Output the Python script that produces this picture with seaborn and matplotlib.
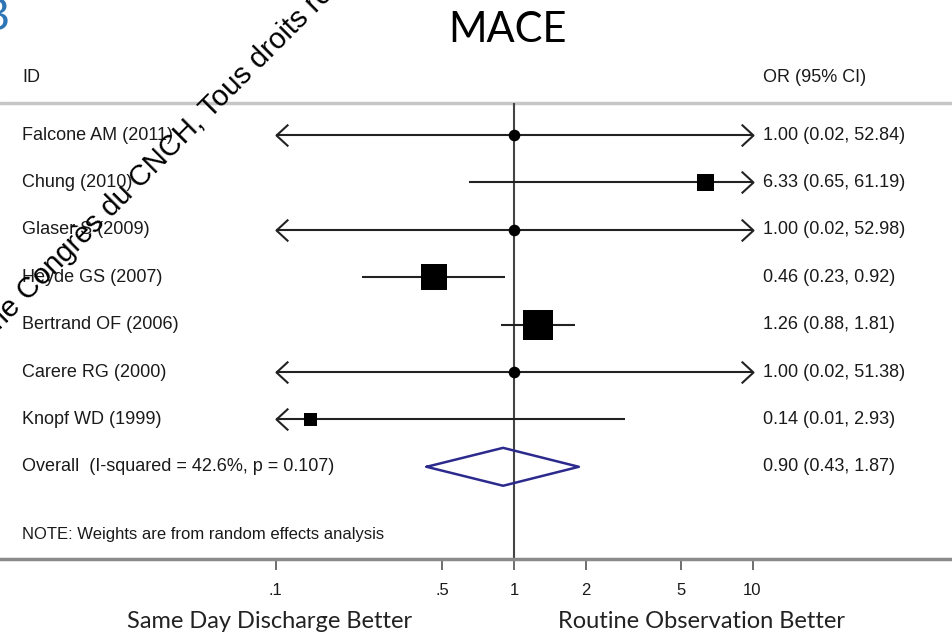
import numpy as np
import pandas as pd
import seaborn as sns
import matplotlib
matplotlib.use('Agg')
import matplotlib.pyplot as plt
import matplotlib.transforms as mtransforms
from matplotlib.path import Path
from matplotlib.ticker import NullLocator

# -------------------- Data --------------------

studies = ['Falcone AM (2011)', 'Chung (2010)', 'Glaser S (2009)', 'Heyde GS (2007)',
           'Bertrand OF (2006)', 'Carere RG (2000)', 'Knopf WD (1999)']
odds_ratio = [1.00, 6.33, 1.00, 0.46, 1.26, 1.00, 0.14]
ci_low = [0.02, 0.65, 0.02, 0.23, 0.88, 0.02, 0.01]
ci_high = [52.84, 61.19, 52.98, 0.92, 1.81, 51.38, 2.93]
weights = [1.5, 12.0, 1.5, 28.5, 38.0, 1.5, 7.0]

overall_label = 'Overall  (I-squared = 42.6%, p = 0.107)'
overall_or, overall_low, overall_high = 0.90, 0.43, 1.87

tick_values = [0.1, 0.5, 1, 2, 5, 10]
tick_labels = ['.1', '.5', '1', '2', '5', '10']

title = 'MACE'
left_label = 'Same Day Discharge Better'
right_label = 'Routine Observation Better'
note = 'NOTE: Weights are from random effects analysis'

# -------------------- Layout helpers --------------------

W, H = 952, 637
X_ONE, DECADE = 514, 238.5      # pixel of OR=1, pixels per decade
ROW0, ROW_STEP = 135, 47.4      # pixel of first row, row spacing


def ypx(p):
    """Pixel row -> row coordinate."""
    return (p - ROW0) / ROW_STEP


def arrow_marker(direction):
    verts = [(direction, 0.92), (0, 0), (direction, -0.92)]
    return Path(verts, [Path.MOVETO, Path.LINETO, Path.LINETO])


# -------------------- Plot --------------------

sns.set_theme(style='white')
plt.rcParams['font.family'] = ['Liberation Sans', 'DejaVu Sans']

df = pd.DataFrame({'study': studies, 'or': odds_ratio, 'lo': ci_low,
                   'hi': ci_high, 'weight': weights})
df['row'] = np.arange(len(df))
axis_lo, axis_hi = tick_values[0], tick_values[-1]
df['lo_c'] = df['lo'].clip(axis_lo, axis_hi)
df['hi_c'] = df['hi'].clip(axis_lo, axis_hi)
overall_row = len(df)

fig = plt.figure(figsize=(W / 100, H / 100), dpi=100)
ax = fig.add_axes([0, 0, 1, 1])
ax.set_xscale('log')

line_col = '#222222'
# confidence intervals
ax.hlines(df['row'], df['lo_c'], df['hi_c'], color=line_col, lw=1.5, zorder=2)
left_cut = df[df['lo'] < axis_lo]
right_cut = df[df['hi'] > axis_hi]
ax.plot(left_cut['lo_c'], left_cut['row'], ls='', marker=arrow_marker(1), ms=17,
        mfc='none', mec=line_col, mew=1.5, zorder=2)
ax.plot(right_cut['hi_c'], right_cut['row'], ls='', marker=arrow_marker(-1), ms=17,
        mfc='none', mec=line_col, mew=1.5, zorder=2)

# weight boxes and point estimates
k = 12.3
sns.scatterplot(data=df, x='or', y='row', size='weight',
                sizes=(k * min(weights), k * max(weights)), marker='s',
                color='black', linewidth=0, legend=False, ax=ax, zorder=3)
sns.scatterplot(data=df, x='or', y='row', s=70, marker='o', color='black',
                linewidth=0, legend=False, ax=ax, zorder=4)

# overall diamond
dh = 0.4
ax.plot([overall_low, overall_or, overall_high, overall_or, overall_low],
        [overall_row, overall_row - dh, overall_row, overall_row + dh, overall_row],
        color='#2d2a8e', lw=1.8, zorder=3)

# reference line and header rule
ax.vlines(1, ypx(103), ypx(559), color='#444444', lw=1.5, zorder=1)
ax.axhline(ypx(103), color='#c6c6c6', lw=2.5, zorder=0)

ax.set_xlim(10 ** (-X_ONE / DECADE), 10 ** ((W - X_ONE) / DECADE))
ax.set_ylim(ypx(H), ypx(0))
ax.set_xlabel('')
ax.set_ylabel('')
ax.set_yticks([])
for side in ['top', 'left', 'right']:
    ax.spines[side].set_visible(False)
ax.spines['bottom'].set_position(('data', ypx(559)))
ax.spines['bottom'].set_color('#8a8a8a')
ax.spines['bottom'].set_linewidth(2.5)
ax.set_xticks(tick_values)
ax.set_xticklabels(tick_labels)
ax.xaxis.set_minor_locator(NullLocator())
ax.tick_params(axis='x', bottom=True, direction='out', length=8, width=1.2,
               color='#555555', pad=9, labelsize=12, labelcolor='#1a1a1a')
ax.patch.set_alpha(0)

# text columns
trans = mtransforms.blended_transform_factory(fig.transFigure, ax.transData)
txt = dict(transform=trans, va='center', fontsize=13, color='#1a1a1a')
ax.text(22 / W, ypx(78), 'ID', **txt)
ax.text(763 / W, ypx(78), 'OR (95% CI)', **txt)
for _, r in df.iterrows():
    ax.text(22 / W, r['row'], r['study'], **txt)
    ax.text(763 / W, r['row'], f"{r['or']:.2f} ({r['lo']:.2f}, {r['hi']:.2f})", **txt)
ax.text(22 / W, overall_row, overall_label, **txt)
ax.text(763 / W, overall_row, f'{overall_or:.2f} ({overall_low:.2f}, {overall_high:.2f})', **txt)
ax.text(22 / W, ypx(535), note, transform=trans, va='center', fontsize=12, color='#1a1a1a')

# titles
fig.text(508 / W, 1 - 30 / H, title, ha='center', va='center', fontsize=30,
         family=['Lato', 'DejaVu Sans'], color='black')
fig.text(270 / W, 1 - 621 / H, left_label, ha='center', va='center', fontsize=17,
         family=['Lato', 'DejaVu Sans'], color='#222222')
fig.text(701 / W, 1 - 621 / H, right_label, ha='center', va='center', fontsize=17,
         family=['Lato', 'DejaVu Sans'], color='#222222')
fig.text(10 / W, 1 - 17 / H, 'B', ha='right', va='center', fontsize=32,
         family=['Lato', 'DejaVu Sans'], color='#2e75b6')

# watermark
fig.text(28 / W, 1 - 302 / H, 'Congrès du CNCH, Tous droits réservés', rotation=45,
         rotation_mode='anchor', ha='left', va='baseline', fontsize=21, color='black')
fig.text(28 / W, 1 - 302 / H, '29ème ', rotation=45,
         rotation_mode='anchor', ha='right', va='baseline', fontsize=21, color='black')

fig.savefig('out.png', dpi=100)
